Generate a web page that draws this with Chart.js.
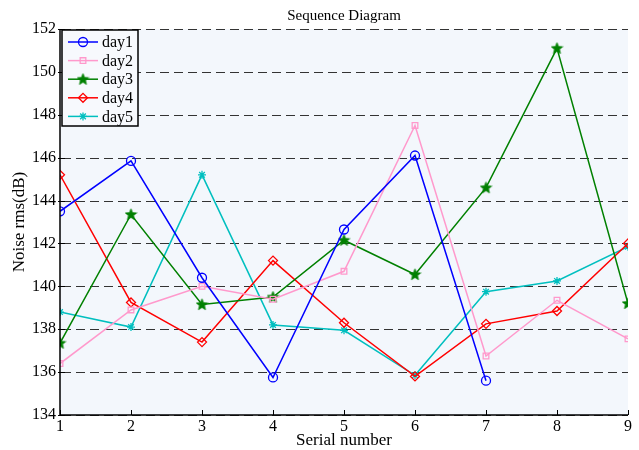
<!DOCTYPE html>
<html>
<head>
<meta charset="utf-8">
<script src="https://cdn.jsdelivr.net/npm/chart.js@4/dist/chart.umd.min.js"></script>
<style>
  html, body { margin: 0; padding: 0; background: #fff; }
  #wrap { width: 639px; height: 450px; }
</style>
</head>
<body>
<div id="wrap"><canvas id="myChart"></canvas></div>
<script>
// datos
var serial = [1, 2, 3, 4, 5, 6, 7, 8, 9];
var day1 = [143.5, 145.85, 140.4, 135.75, 142.65, 146.1, 135.6];
var day2 = [136.4, 138.9, 140.0, 139.4, 140.7, 147.5, 136.75, 139.35, 137.55];
var day3 = [137.35, 143.35, 139.15, 139.5, 142.15, 140.55, 144.6, 151.1, 139.2];
var day4 = [145.2, 139.25, 137.4, 141.2, 138.3, 135.8, 138.25, 138.85, 142.0];
var day5 = [138.8, 138.1, 145.2, 138.2, 137.95, 135.85, 139.75, 140.25, 141.85];
var yTicks = [134, 136, 138, 140, 142, 144, 146, 148, 150, 152];
var nombres = ["day1", "day2", "day3", "day4", "day5"];

var fuente = "'Liberation Serif', 'Times New Roman', serif";

// estrella de cinco puntas para day3
function hacerEstrella(color){
    var c = document.createElement("canvas");
    c.width = 13; c.height = 13;
    var g = c.getContext("2d");
    g.beginPath();
    for (var i = 0; i < 10; i++) {
        var r = (i % 2 == 0) ? 6 : 2.6;
        var a = -Math.PI / 2 + i * Math.PI / 5;
        var px = 6.5 + r * Math.cos(a);
        var py = 6.8 + r * Math.sin(a);
        if (i == 0) g.moveTo(px, py); else g.lineTo(px, py);
    }
    g.closePath();
    g.fillStyle = color;
    g.fill();
    g.strokeStyle = color;
    g.lineWidth = 0.8;
    g.stroke();
    return c;
}
var estrella = hacerEstrella("#008000");

function puntos(vals){
    return vals.map(function(v, i){ return {x: serial[i], y: v}; });
}

var series = [
    {label: nombres[0], data: puntos(day1), color: "#0000ff", style: "circle", radius: 4.5},
    {label: nombres[1], data: puntos(day2), color: "#ff99cc", style: "rect", radius: 4},
    {label: nombres[2], data: puntos(day3), color: "#008000", style: estrella, radius: 5},
    {label: nombres[3], data: puntos(day4), color: "#ff0000", style: "rectRot", radius: 4.5},
    {label: nombres[4], data: puntos(day5), color: "#00bfbf", style: "star", radius: 4}
];

var datasets = series.map(function(s){
    return {
        label: s.label,
        data: s.data,
        borderColor: s.color,
        backgroundColor: "rgba(0,0,0,0)",
        borderWidth: 1.5,
        pointStyle: s.style,
        pointRadius: s.radius,
        pointBorderWidth: 1.3,
        pointBorderColor: s.color,
        pointBackgroundColor: "rgba(0,0,0,0)",
        tension: 0
    };
});

var extras = {
    id: "extras",
    beforeDraw: function(chart){
        var ctx = chart.ctx, a = chart.chartArea;
        ctx.save();
        ctx.fillStyle = "#f3f7fc";
        ctx.fillRect(a.left, a.top, a.right - a.left, a.bottom - a.top);
        ctx.restore();
    },
    beforeDatasetsDraw: function(chart){
        // rejilla discontinua
        var ctx = chart.ctx, a = chart.chartArea, ys = chart.scales.y;
        ctx.save();
        ctx.strokeStyle = "#333";
        ctx.lineWidth = 1;
        ctx.setLineDash([9, 5]);
        yTicks.forEach(function(v){
            var py = Math.round(ys.getPixelForValue(v)) + 0.5;
            ctx.beginPath(); ctx.moveTo(a.left + 2, py); ctx.lineTo(a.right, py); ctx.stroke();
        });
        ctx.restore();
    },
    afterDatasetsDraw: function(chart){
        var ctx = chart.ctx, a = chart.chartArea;
        var xs = chart.scales.x, ys = chart.scales.y;
        ctx.save();
        // ejes y marcas
        ctx.strokeStyle = "#000";
        ctx.lineWidth = 1.5;
        ctx.beginPath(); ctx.moveTo(a.left, a.top); ctx.lineTo(a.left, a.bottom); ctx.lineTo(a.right, a.bottom); ctx.stroke();
        ctx.lineWidth = 1;
        serial.forEach(function(v){
            var px = Math.round(xs.getPixelForValue(v)) + 0.5;
            ctx.beginPath(); ctx.moveTo(px, a.bottom); ctx.lineTo(px, a.bottom - 5); ctx.stroke();
        });
        yTicks.forEach(function(v){
            var py = Math.round(ys.getPixelForValue(v)) + 0.5;
            ctx.beginPath(); ctx.moveTo(a.left - 2, py); ctx.lineTo(a.left + 5, py); ctx.stroke();
        });

        // titulos
        ctx.fillStyle = "#000";
        ctx.textAlign = "center";
        ctx.textBaseline = "middle";
        ctx.font = "15px " + fuente;
        ctx.fillText("Sequence Diagram", (a.left + a.right) / 2, 16);
        ctx.font = "17px " + fuente;
        ctx.fillText("Serial number", (a.left + a.right) / 2, 441);
        ctx.translate(20, (a.top + a.bottom) / 2);
        ctx.rotate(-Math.PI / 2);
        ctx.fillText("Noise rms(dB)", 0, 0);
        ctx.restore();

        // leyenda dentro del area
        ctx.save();
        var bx = 62, by = 30, bw = 76, bh = 96;
        ctx.fillStyle = "#f7f9fd";
        ctx.fillRect(bx, by, bw, bh);
        ctx.strokeStyle = "#000";
        ctx.lineWidth = 1.5;
        ctx.strokeRect(bx, by, bw, bh);
        ctx.font = "16px " + fuente;
        ctx.textAlign = "left";
        ctx.textBaseline = "middle";
        series.forEach(function(s, i){
            var ly = 42 + i * 18.6;
            ctx.strokeStyle = s.color;
            ctx.lineWidth = 1.5;
            ctx.beginPath(); ctx.moveTo(68, ly); ctx.lineTo(98, ly); ctx.stroke();
            ctx.lineWidth = 1.3;
            ctx.fillStyle = "rgba(0,0,0,0)";
            Chart.helpers.drawPoint(ctx, {pointStyle: s.style, radius: s.radius, rotation: 0, borderWidth: 1.3}, 83, ly);
            ctx.fillStyle = "#000";
            ctx.fillText(s.label, 102, ly + 1);
        });
        ctx.restore();
    }
};

var ctx = document.getElementById("myChart").getContext("2d");
var chart = new Chart(ctx, {
    type: "line",
    data: {datasets: datasets},
    options: {
        responsive: true,
        maintainAspectRatio: false,
        animation: false,
        layout: {padding: {top: 29, right: 11, left: 0, bottom: 0}},
        plugins: {legend: {display: false}, title: {display: false}, tooltip: {enabled: false}},
        scales: {
            x: {
                type: "linear",
                min: 1, max: 9,
                afterFit: function(scale){ scale.height = 35; },
                afterBuildTicks: function(scale){ scale.ticks = serial.map(function(v){ return {value: v}; }); },
                grid: {display: false, drawTicks: false},
                border: {display: false},
                ticks: {color: "#000", font: {family: fuente, size: 16}, padding: 2, maxRotation: 0}
            },
            y: {
                min: 134, max: 152,
                afterFit: function(scale){ scale.width = 60; },
                afterBuildTicks: function(scale){ scale.ticks = yTicks.map(function(v){ return {value: v}; }); },
                grid: {display: false, drawTicks: false},
                border: {display: false},
                ticks: {color: "#000", font: {family: fuente, size: 16}, padding: 4}
            }
        }
    },
    plugins: [extras]
});
</script>
</body>
</html>
